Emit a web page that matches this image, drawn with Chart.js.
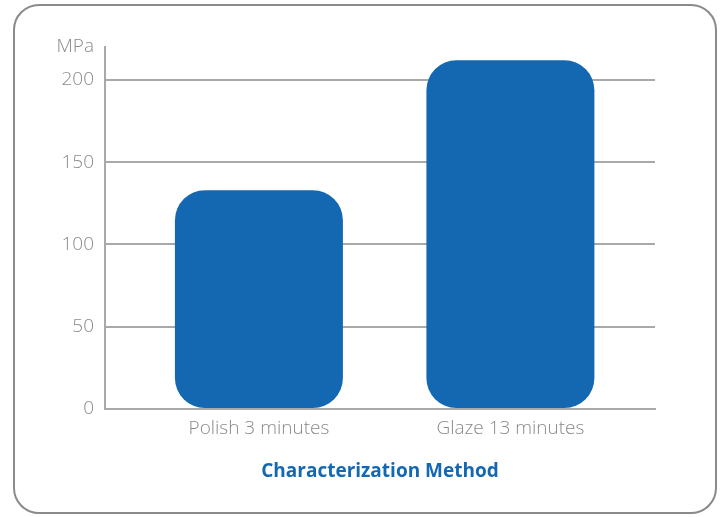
<!DOCTYPE html>
<html>
<head>
<meta charset="utf-8">
<script src="https://cdn.jsdelivr.net/npm/chart.js@4"></script>
<style>
  html, body { margin: 0; padding: 0; background: #fff; }
  #wrap { position: relative; width: 723px; height: 517px; }
  #frame {
    position: absolute; left: 13px; top: 4px; width: 700px; height: 506px;
    border: 2.5px solid #8a8a8a; border-radius: 26px;
  }
  #chart { position: absolute; left: 0; top: 0; }
</style>
</head>
<body>
<div id="wrap">
  <div id="frame"></div>
  <canvas id="chart" width="723" height="517"></canvas>
</div>
<script>
const categories = ['Polish 3 minutes', 'Glaze 13 minutes'];
const strength = [133, 212];
const yTicks = [0, 50, 100, 150, 200];
const unitLabel = 'MPa';
const xTitle = 'Characterization Method';

const blue = '#1468b1';
const grey = '#a9a9a9';
const textGrey = '#8a8a8a';

// draws the unit text above the y axis labels
const unitPlugin = {
  id: 'unit',
  afterDraw(chart) {
    const y = chart.scales.y;
    const ctx = chart.ctx;
    ctx.save();
    ctx.font = '300 19px "Open Sans"';
    ctx.fillStyle = textGrey;
    ctx.textAlign = 'right';
    ctx.textBaseline = 'middle';
    ctx.fillText(unitLabel, y.right - 11, y.top);
    ctx.restore();
  }
};

(async function () {
  new Chart(
    document.getElementById('chart'),
    {
      type: 'bar',
      plugins: [unitPlugin],
      data: {
        datasets: [
          {
            data: strength.map((v, i) => ({ x: i + 1, y: v })),
            backgroundColor: blue,
            borderRadius: 30,
            borderSkipped: false,
            categoryPercentage: 1,
            barPercentage: 0.668
          }
        ]
      },
      options: {
        responsive: false,
        animation: false,
        layout: { padding: { left: 0, right: 68, top: 47, bottom: 0 } },
        plugins: { legend: { display: false }, tooltip: { enabled: false } },
        scales: {
          x: {
            type: 'linear',
            offset: false,
            min: 0.388,
            max: 2.575,
            afterFit(scale) { scale.height = 108; },
            afterBuildTicks(scale) {
              scale.ticks = categories.map((c, i) => ({ value: i + 1 }));
            },
            grid: { display: false },
            border: { color: grey, width: 2 },
            ticks: {
              padding: 0,
              color: textGrey,
              font: { family: 'Open Sans', size: 19, weight: '300' },
              callback: v => categories[v - 1]
            },
            title: {
              display: true,
              text: xTitle,
              color: blue,
              font: { family: 'Open Sans', size: 19, weight: 'bold' },
              padding: { top: 0, bottom: 34 }
            }
          },
          y: {
            min: 0,
            max: 220,
            afterFit(scale) { scale.width = 105; },
            afterBuildTicks(scale) {
              scale.ticks = yTicks.map(v => ({ value: v }));
            },
            grid: { color: grey, lineWidth: 2, drawTicks: false },
            border: { color: grey, width: 2 },
            ticks: {
              padding: 11,
              color: textGrey,
              font: { family: 'Open Sans', size: 19, weight: '300' }
            }
          }
        }
      }
    }
  );
})();
</script>
</body>
</html>
